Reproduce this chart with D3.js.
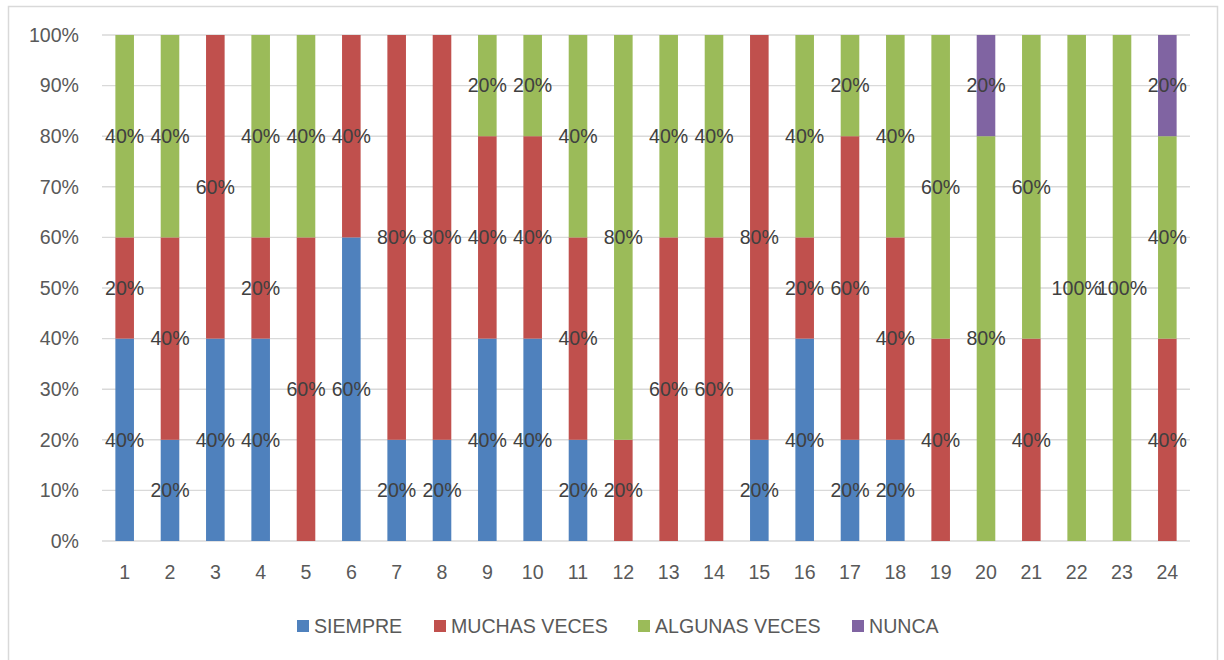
<!DOCTYPE html>
<html><head><meta charset="utf-8">
<script src="https://cdn.jsdelivr.net/npm/d3@7"></script>
<style>body{margin:0;background:#fff}svg{display:block}</style>
</head><body><svg id="c" width="1224" height="660"></svg>
<script>
const categories = ["1","2","3","4","5","6","7","8","9","10","11","12","13","14","15","16","17","18","19","20","21","22","23","24"];
const seriesNames = ["SIEMPRE","MUCHAS VECES","ALGUNAS VECES","NUNCA"];
const seriesColors = ["#4F81BD","#C0504D","#9BBB59","#8064A2"];
const siempre      = [40,20,40,40, 0,60,20,20,40,40,20, 0, 0, 0,20,40,20,20, 0, 0, 0, 0, 0, 0];
const muchasVeces  = [20,40,60,20,60,40,80,80,40,40,40,20,60,60,80,20,60,40,40, 0,40, 0, 0,40];
const algunasVeces = [40,40, 0,40,40, 0, 0, 0,20,20,40,80,40,40, 0,40,20,40,60,80,60,100,100,40];
const nunca        = [ 0, 0, 0, 0, 0, 0, 0, 0, 0, 0, 0, 0, 0, 0, 0, 0, 0, 0, 0,20, 0, 0, 0,20];
const yTicks = [0,10,20,30,40,50,60,70,80,90,100];

const seriesValues = [siempre, muchasVeces, algunasVeces, nunca];
const rows = categories.map((c,i)=>{const r={cat:c}; seriesNames.forEach((s,j)=>r[s]=seriesValues[j][i]); return r;});
const stacked = d3.stack().keys(seriesNames)(rows);

const svg = d3.select("#c");
const font = "'Liberation Sans', Arial, sans-serif";
const fs = 19.6;
svg.append("rect").attr("x",8.5).attr("y",6.5).attr("width",1209).attr("height",660)
  .attr("fill","#fff").attr("stroke","#d9d9d9").attr("stroke-width",1.5);

const L=102, R=1190, T=35, B=541;
const x = d3.scaleBand().domain(categories).range([L,R]).paddingInner(0.59).paddingOuter(0.295);
const y = d3.scaleLinear().domain([0,100]).range([B,T]);

// gridlines
svg.append("g").selectAll("line").data(yTicks).join("line")
  .attr("x1",L).attr("x2",R).attr("y1",d=>y(d)).attr("y2",d=>y(d))
  .attr("stroke","#d9d9d9").attr("stroke-width",1.4);

// y labels
svg.append("g").selectAll("text").data(yTicks).join("text")
  .attr("x",79).attr("y",d=>y(d)).attr("dy","0.35em").attr("text-anchor","end")
  .attr("font-family",font).attr("font-size",fs).attr("fill","#595959")
  .text(d=>d+"%");

// x labels
svg.append("g").selectAll("text").data(categories).join("text")
  .attr("x",d=>x(d)+x.bandwidth()/2).attr("y",572).attr("dy","0.35em").attr("text-anchor","middle")
  .attr("font-family",font).attr("font-size",fs).attr("fill","#595959")
  .text(d=>d);

// bars
const g = svg.append("g");
stacked.forEach((s,j)=>{
  g.append("g").selectAll("rect").data(s.filter(d=>d[1]-d[0]>0)).join("rect")
    .attr("x",d=>x(d.data.cat)).attr("width",x.bandwidth())
    .attr("y",d=>y(d[1])).attr("height",d=>y(d[0])-y(d[1]))
    .attr("fill",seriesColors[j]);
});
// labels
stacked.forEach((s,j)=>{
  g.append("g").selectAll("text").data(s.filter(d=>d[1]-d[0]>0)).join("text")
    .attr("x",d=>x(d.data.cat)+x.bandwidth()/2).attr("y",d=>y((d[0]+d[1])/2)).attr("dy","0.35em")
    .attr("text-anchor","middle").attr("font-family",font).attr("font-size",fs).attr("fill","#404040")
    .text(d=>(d[1]-d[0])+"%");
});

// legend
const legendX = [297, 434, 638, 852];
const lg = svg.append("g");
seriesNames.forEach((s,j)=>{
  lg.append("rect").attr("x",legendX[j]).attr("y",620).attr("width",12).attr("height",12).attr("fill",seriesColors[j]);
  lg.append("text").attr("x",legendX[j]+17).attr("y",626).attr("dy","0.35em")
    .attr("font-family",font).attr("font-size",fs).attr("fill","#595959").text(s);
});
</script></body></html>
